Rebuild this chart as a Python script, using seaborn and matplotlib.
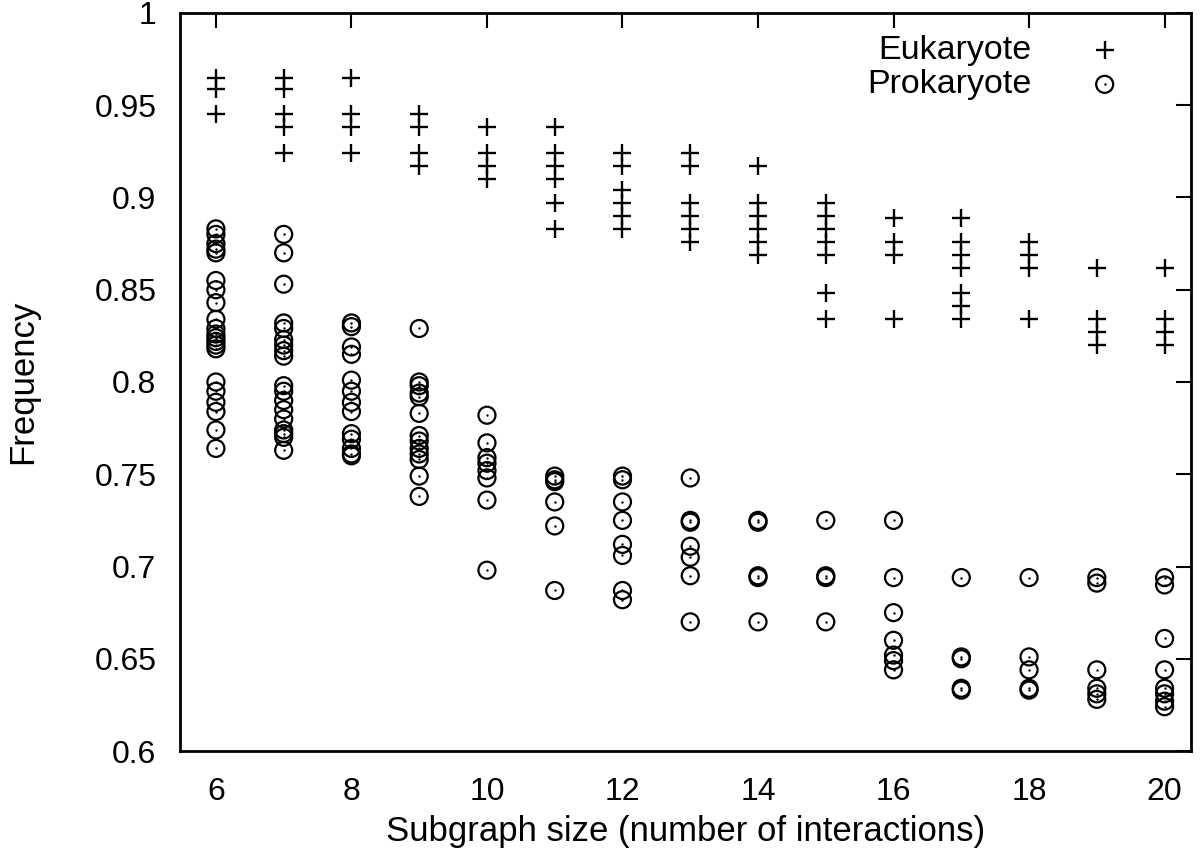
import matplotlib
matplotlib.use("Agg")
import matplotlib.pyplot as plt
import seaborn as sns
import pandas as pd
from matplotlib.legend_handler import HandlerTuple
from matplotlib.ticker import FixedLocator, FuncFormatter

# Setup
sns.set_theme(style="white")
plt.rcParams["font.family"] = ["Liberation Sans", "DejaVu Sans"]

# Data: one list of frequencies per subgraph size
sizes = [6, 7, 8, 9, 10, 11, 12, 13, 14, 15, 16, 17, 18, 19, 20]

euk_freq = [
    [0.965, 0.959, 0.945],
    [0.965, 0.959, 0.945, 0.938, 0.924],
    [0.965, 0.945, 0.938, 0.924],
    [0.945, 0.938, 0.924, 0.917],
    [0.938, 0.924, 0.917, 0.910],
    [0.938, 0.924, 0.917, 0.910, 0.897, 0.883],
    [0.924, 0.917, 0.904, 0.897, 0.890, 0.883],
    [0.924, 0.917, 0.897, 0.890, 0.883, 0.876],
    [0.917, 0.897, 0.890, 0.883, 0.876, 0.869],
    [0.897, 0.890, 0.883, 0.876, 0.869, 0.848, 0.834],
    [0.889, 0.876, 0.869, 0.834],
    [0.889, 0.876, 0.869, 0.862, 0.848, 0.841, 0.834],
    [0.876, 0.869, 0.862, 0.834],
    [0.862, 0.834, 0.827, 0.820],
    [0.862, 0.834, 0.827, 0.820],
]

prok_freq = [
    [0.883, 0.880, 0.875, 0.872, 0.870, 0.855, 0.850, 0.843, 0.834, 0.829,
     0.826, 0.824, 0.822, 0.820, 0.818, 0.800, 0.795, 0.789, 0.784, 0.774, 0.764],
    [0.880, 0.870, 0.853, 0.832, 0.829, 0.823, 0.820, 0.817, 0.814, 0.798,
     0.795, 0.790, 0.785, 0.780, 0.774, 0.772, 0.770, 0.763],
    [0.832, 0.830, 0.819, 0.815, 0.801, 0.795, 0.789, 0.784, 0.772, 0.769,
     0.764, 0.761, 0.760],
    [0.829, 0.800, 0.798, 0.794, 0.792, 0.783, 0.771, 0.768, 0.764, 0.761,
     0.758, 0.749, 0.738],
    [0.782, 0.767, 0.759, 0.756, 0.752, 0.748, 0.736, 0.698],
    [0.749, 0.747, 0.746, 0.735, 0.722, 0.687],
    [0.749, 0.747, 0.735, 0.725, 0.712, 0.706, 0.687, 0.682],
    [0.748, 0.725, 0.724, 0.711, 0.705, 0.695, 0.670],
    [0.725, 0.724, 0.695, 0.694, 0.670],
    [0.725, 0.695, 0.694, 0.670],
    [0.725, 0.694, 0.675, 0.660, 0.652, 0.649, 0.644],
    [0.694, 0.651, 0.650, 0.634, 0.633],
    [0.694, 0.651, 0.644, 0.634, 0.633],
    [0.694, 0.691, 0.644, 0.634, 0.631, 0.628],
    [0.694, 0.690, 0.661, 0.644, 0.634, 0.631, 0.627, 0.624],
]

ytick_vals = [0.6, 0.65, 0.7, 0.75, 0.8, 0.85, 0.9, 0.95, 1.0]
xtick_vals = [6, 8, 10, 12, 14, 16, 18, 20]

# Long format tables
euk = pd.DataFrame(
    [(s, f) for s, col in zip(sizes, euk_freq) for f in col], columns=["size", "freq"]
)
prok = pd.DataFrame(
    [(s, f) for s, col in zip(sizes, prok_freq) for f in col], columns=["size", "freq"]
)

fig, ax = plt.subplots(figsize=(12, 8.59), dpi=100)
fig.subplots_adjust(left=0.15, right=0.9925, top=0.9849, bottom=0.1257)

sns.scatterplot(data=euk, x="size", y="freq", marker="+", s=150, color="black",
                linewidth=1.7, ax=ax, label="Eukaryote")
sns.scatterplot(data=prok, x="size", y="freq", marker="o", s=150, color="black",
                facecolor="none", edgecolor="black", linewidth=1.6, ax=ax,
                label="Prokaryote")
sns.scatterplot(data=prok, x="size", y="freq", marker="o", s=3, color="black",
                linewidth=0, ax=ax)

ax.set_xlim(5.47, 20.39)
ax.set_ylim(0.6, 1.0)
ax.xaxis.set_major_locator(FixedLocator(xtick_vals))
ax.yaxis.set_major_locator(FixedLocator(ytick_vals))
ax.yaxis.set_major_formatter(FuncFormatter(lambda v, p: f"{v:g}"))

ax.tick_params(direction="in", length=10.5, width=1.5, labelsize=23,
               top=True, right=True, colors="black")
ax.tick_params(axis="y", pad=17)
ax.tick_params(axis="x", pad=18.5)
for sp in ax.spines.values():
    sp.set_linewidth(2)
    sp.set_color("black")

ax.set_xlabel("Subgraph size (number of interactions)", fontsize=25, labelpad=6,
              color="black")
ax.set_ylabel("Frequency", fontsize=25, labelpad=40, color="black")

# Legend: text first, symbol after
cols = ax.collections
leg = ax.legend([cols[0], (cols[1], cols[2])], ["Eukaryote", "Prokaryote"],
                handler_map={tuple: HandlerTuple(ndivide=1)},
                loc="upper right", bbox_to_anchor=(0.955, 1.0026), markerfirst=False,
                frameon=False, fontsize=24.5, labelspacing=0.1, handlelength=1.0,
                handletextpad=1.65, borderaxespad=0.3)
for t in leg.get_texts():
    t.set_color("black")

plt.savefig("out.png", dpi=100)
